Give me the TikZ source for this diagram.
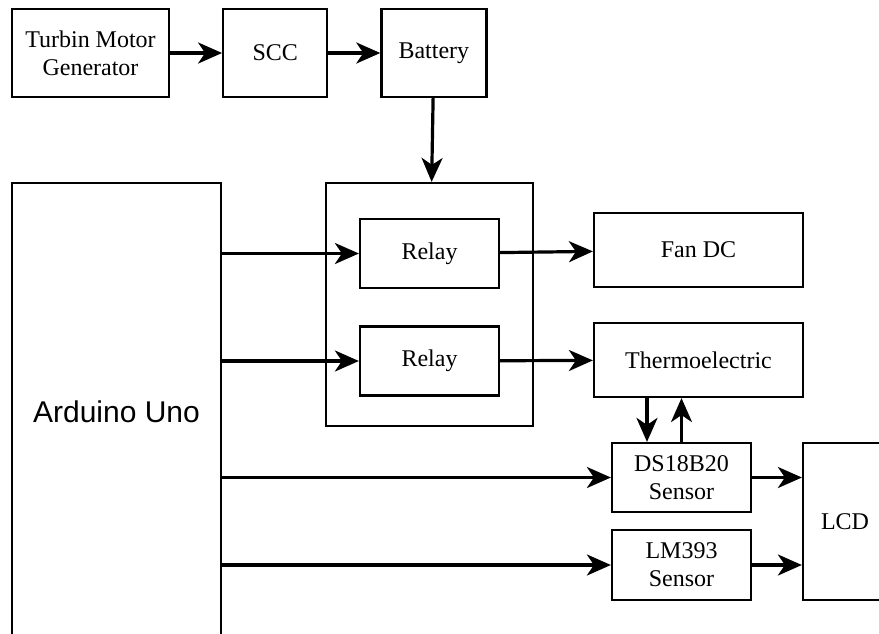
\documentclass[tikz,border=0pt]{standalone}
\usepackage{fontspec}
\setmainfont{Liberation Serif}
\newfontfamily\ardfont{Liberation Sans}
\usetikzlibrary{arrows.meta, positioning}

\begin{document}
\begin{tikzpicture}[ x=0.5pt, y=-0.5pt, >={Stealth[length=12pt, width=10.5pt, inset=3.5pt]}, link/.style={->, line width=1.6pt}, blk/.style={draw, line width=1.1pt, inner sep=0pt, align=center, font=\fontsize{12}{14}\selectfont} ]
		\useasboundingbox (0,0) rectangle (879,633);
		\clip (0,0) rectangle (879,633);
		% Power chain
		\node[blk, minimum width=78.5pt, minimum height=44pt] (tmg) at (90.5,53) {Turbin Motor\\Generator};
		\node[blk, minimum width=52pt, minimum height=44pt, right=26pt of tmg] (scc) {SCC};
		\node[blk, minimum width=52.5pt, minimum height=44pt, right=26pt of scc] (bat) {Battery};
		% Controller
		\node[blk, minimum width=104.5pt, minimum height=228.5pt, font=\ardfont\fontsize{15}{18}\selectfont] (ard) at (116.5,411.5) {Arduino Uno};
		% Relay module
		\node[blk, minimum width=103.5pt, minimum height=121.5pt] (rbox) at (429.5,304.5) {};
		\node[blk, minimum width=69.5pt, minimum height=34.5pt] (rly1) at (429.5,253.5) {Relay};
		\node[blk, minimum width=69.5pt, minimum height=34.5pt] (rly2) at (429.5,361) {Relay};
		% Loads
		\node[blk, minimum width=104.5pt, minimum height=37pt] (fan) at (698.5,250) {Fan DC};
		\node[blk, minimum width=104.5pt, minimum height=37pt] (thermo) at (698.5,360) {Thermoelectric};
		% Sensors and display
		\node[blk, minimum width=69.5pt, minimum height=34.5pt] (ds) at (681.5,477.5) {DS18B20\\Sensor};
		\node[blk, minimum width=69.5pt, minimum height=35pt] (lm) at (681.5,565) {LM393\\Sensor};
		\node[blk, minimum width=42pt, minimum height=78.5pt] (lcd) at (845,521.5) {LCD};
		\coordinate (dsin) at ([xshift=-17.25pt]ds.north);
		% Power arrows
		\draw[link] (tmg) -- (scc);
		\draw[link] (scc) -- (bat);
		\draw[link] (bat) -- (rbox);
		% Arduino outputs
		\draw[link] (ard.east |- rly1) -- (rly1);
		\draw[link] (ard.east |- rly2) -- (rly2);
		\draw[link] (ard.east |- ds) -- (ds);
		\draw[link] (ard.east |- lm) -- (lm);
		% Relay outputs
		\draw[link] (rly1) -- (fan);
		\draw[link] (rly2) -- (thermo);
		% Thermoelectric and sensor
		\draw[link] (dsin |- thermo.south) -- (dsin);
		\draw[link] (ds.north) -- (ds.north |- thermo.south);
		% Sensors to LCD
		\draw[link] (ds) -- (ds -| lcd.west);
		\draw[link] (lm) -- (lm -| lcd.west);
\end{tikzpicture}
\end{document}
